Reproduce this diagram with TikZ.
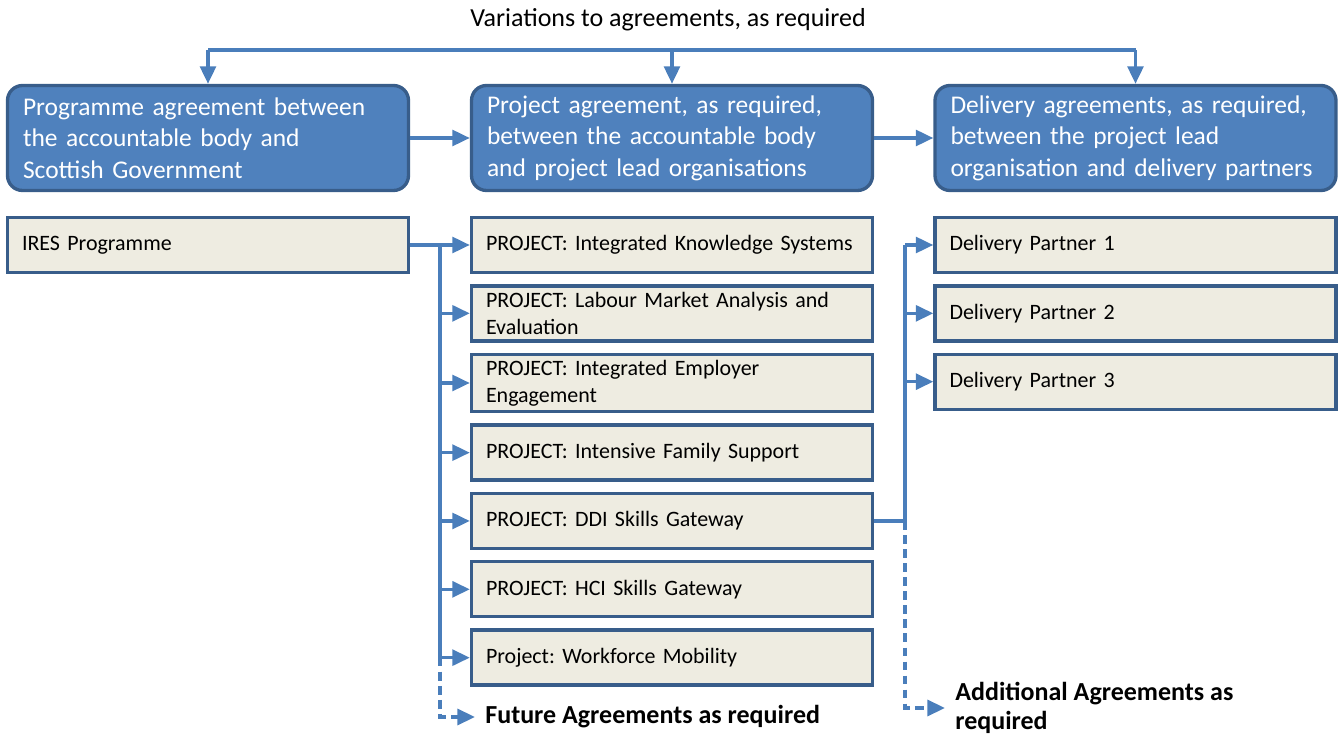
\documentclass[tikz,border=0pt]{standalone}
\usepackage{fontspec}
\setmainfont{Carlito}
\usepackage{tikz}
\usetikzlibrary{arrows.meta,positioning,chains}
\definecolor{hdrblue}{HTML}{4F81BD}
\definecolor{edgeblue}{HTML}{385D8A}
\definecolor{linkblue}{HTML}{4A7EBB}
\definecolor{paperbg}{HTML}{EEECE1}
\frenchspacing
\tikzstyle{agreebox}=[draw=edgeblue,fill=hdrblue,line width=1.9pt,rounded corners=0.3cm,
  text=white,align=left,text width=7.4cm,inner xsep=0.31cm,minimum height=2.1cm,
  font=\fontsize{14.5}{17.9}\selectfont]
\tikzstyle{itembox}=[draw=edgeblue,fill=paperbg,line width=1.9pt,align=left,
  text width=7.44cm,inner xsep=0.29cm,minimum height=1.1cm,
  font=\fontsize{12.5}{15.3}\selectfont]
\tikzstyle{wire}=[draw=linkblue,line width=2pt]
\tikzstyle{link}=[wire,-{Triangle[length=10pt,width=9pt]}]
\tikzstyle{futuretext}=[anchor=west,align=left,inner xsep=0.2cm,
  font=\fontsize{14.8}{16.8}\selectfont\bfseries]

\begin{document}
\begin{tikzpicture}
\useasboundingbox (0,0) rectangle (26.86,-14.76);

%% Agreement levels
\node[font=\fontsize{14.8}{17}\selectfont] (variations) at (13.36,-0.4)
  {Variations to agreements, as required};
\node[agreebox] (progagr) at (4.16,-2.76)
  {Programme agreement between\\the accountable body and\\Scottish Government};
\node[agreebox] (projagr) at (13.44,-2.76)
  {Project agreement, as required,\\between the accountable body\\and project lead organisations};
\node[agreebox] (delagr) at (22.71,-2.76)
  {Delivery agreements, as required,\\between the project lead\\organisation and delivery partners};

% variations feed back into every level
\coordinate (vline) at (0,-1.0);
\draw[wire] (progagr.north |- vline) -- (delagr.north |- vline);
\foreach \n in {progagr,projagr,delagr}
  \draw[link] (\n.north |- vline) -- (\n.north);
\draw[link] (progagr) -- (projagr);
\draw[link] (projagr) -- (delagr);

%% Programme
\node[itembox] (ires) at (4.16,-4.9) {IRES Programme};

%% Projects
\begin{scope}[shift={(13.44,-4.9)},start chain=proj going below,node distance=0.2cm]
\foreach \t in {{PROJECT: Integrated Knowledge Systems},
                {PROJECT: Labour Market Analysis and\\Evaluation},
                {PROJECT: Integrated Employer\\Engagement},
                {PROJECT: Intensive Family Support},
                {PROJECT: DDI Skills Gateway},
                {PROJECT: HCI Skills Gateway},
                {Project: Workforce Mobility}}
  \node [on chain,itembox] {\t};
\end{scope}

%% Delivery partners
\begin{scope}[shift={(22.71,-4.9)},start chain=part going below,node distance=0.2cm]
\foreach \i in {1,2,3}
  \node [on chain,itembox] {Delivery Partner \i};
\end{scope}

%% Programme to projects
\path (ires.east) ++(0.6,0) coordinate (lsplit);
\draw[wire] (ires.east) -- (lsplit) -- (lsplit |- proj-7.west);
\foreach \i in {1,...,7}
  \draw[link] (lsplit |- proj-\i.west) -- (proj-\i.west);
\node[futuretext] (future) at (9.5,-14.34) {Future Agreements as required};
\draw[link,dash pattern=on 5pt off 3pt] (lsplit |- proj-7.west) -- (lsplit |- future.west) -- (future.west);

%% Project to delivery partners
\path (proj-5.east) ++(0.62,0) coordinate (rsplit);
\draw[wire] (proj-5.east) -- (rsplit) -- (rsplit |- part-1.west);
\foreach \i in {1,2,3}
  \draw[link] (rsplit |- part-\i.west) -- (part-\i.west);
\node[futuretext] (additional) at (18.9,-14.16) {Additional Agreements as\\required};
\draw[link,dash pattern=on 5pt off 3pt] (rsplit) -- (rsplit |- additional.west) -- (additional.west);

\end{tikzpicture}
\end{document}
